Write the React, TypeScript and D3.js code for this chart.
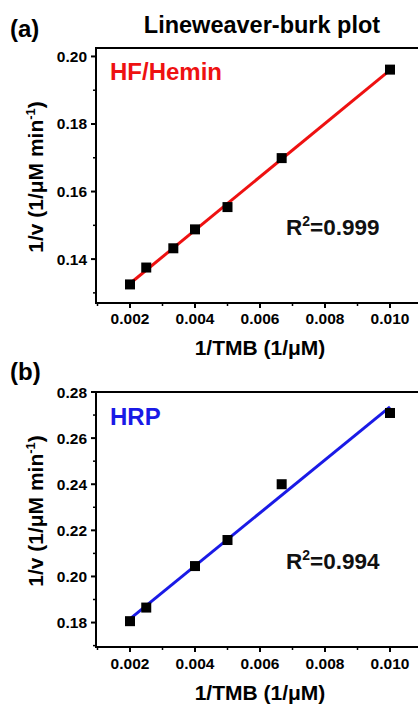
import React from "react";
import * as d3 from "d3";

const xA = [0.002, 0.0025, 0.003333, 0.004, 0.005, 0.006667, 0.01];
const yA = [0.1325, 0.1375, 0.1432, 0.1488, 0.1554, 0.1699, 0.1961];
const xB = [0.002, 0.0025, 0.004, 0.005, 0.006667, 0.01];
const yB = [0.1806, 0.1865, 0.2045, 0.2158, 0.24, 0.2709];
const xTicks = [0.002, 0.004, 0.006, 0.008, 0.01];
const xMinor = [0.001, 0.003, 0.005, 0.007, 0.009, 0.011];
const yTicksA = [0.14, 0.16, 0.18, 0.2];
const yMinorA = [0.13, 0.15, 0.17, 0.19];
const yTicksB = [0.18, 0.2, 0.22, 0.24, 0.26, 0.28];
const yMinorB = [0.17, 0.19, 0.21, 0.23, 0.25, 0.27];

const FONT = "'Liberation Sans', Arial, sans-serif";

function fit(xs: number[], ys: number[]) {
  const mx = d3.mean(xs)!;
  const my = d3.mean(ys)!;
  let sxy = 0, sxx = 0;
  xs.forEach((x, i) => { sxy += (x - mx) * (ys[i] - my); sxx += (x - mx) * (x - mx); });
  const b = sxy / sxx;
  return (x: number) => my + b * (x - mx);
}

type PanelProps = {
  top: number; bottom: number; yDomain: [number, number];
  xs: number[]; ys: number[]; yTicks: number[]; yMinor: number[];
  color: string; name: string; r2: string; letter: string; letterY: number;
  nameY: number; r2Y: number; tickY: number; xLabelY: number; yLabelY: number;
};

function Panel(p: PanelProps) {
  const left = 96;
  const x = d3.scaleLinear().domain([0.002, 0.01]).range([130, 390]);
  const x0 = x.invert(left);
  const xMax = x.invert(424);
  const y = d3.scaleLinear().domain(p.yDomain).range([p.bottom, p.top]);
  const f = fit(p.xs, p.ys);
  const line = d3.line<number>().x((d) => x(d)).y((d) => y(f(d)));
  const fmtX = d3.format(".3f");
  const fmtY = d3.format(".2f");
  return (
    <g>
      <text x={10} y={p.letterY} fontFamily={FONT} fontWeight="bold" fontSize={24}>{p.letter}</text>
      {/* frame */}
      <line x1={left} x2={x(xMax)} y1={p.top} y2={p.top} stroke="#000" strokeWidth={2} />
      <line x1={left} x2={x(xMax)} y1={p.bottom} y2={p.bottom} stroke="#000" strokeWidth={2} />
      <line x1={left} x2={left} y1={p.top - 1} y2={p.bottom + 1} stroke="#000" strokeWidth={2} />
      {xTicks.map((t) => (
        <g key={"xt" + t}>
          <line x1={x(t)} x2={x(t)} y1={p.bottom} y2={p.bottom + 5} stroke="#000" strokeWidth={2} />
          <text x={x(t)} y={p.tickY} textAnchor="middle" fontFamily={FONT} fontWeight="bold" fontSize={15.5}>{fmtX(t)}</text>
        </g>
      ))}
      {xMinor.filter((t) => t > x0).map((t) => (
        <line key={"xm" + t} x1={x(t)} x2={x(t)} y1={p.bottom} y2={p.bottom + 3} stroke="#000" strokeWidth={1.5} />
      ))}
      {p.yTicks.map((t) => (
        <g key={"yt" + t}>
          <line x1={left - 5} x2={left} y1={y(t)} y2={y(t)} stroke="#000" strokeWidth={2} />
          <text x={left - 9} y={y(t) + 5.5} textAnchor="end" fontFamily={FONT} fontWeight="bold" fontSize={15.5}>{fmtY(t)}</text>
        </g>
      ))}
      {p.yMinor.filter((t) => t > p.yDomain[0]).map((t) => (
        <line key={"ym" + t} x1={left - 3} x2={left} y1={y(t)} y2={y(t)} stroke="#000" strokeWidth={1.5} />
      ))}
      <path d={line([p.xs[0], p.xs[p.xs.length - 1]]) || ""} stroke={p.color} strokeWidth={3} fill="none" />
      {p.xs.map((d, i) => (
        <rect key={"pt" + i} x={x(d) - 5} y={y(p.ys[i]) - 5} width={10} height={10} fill="#000" />
      ))}
      <text x={110} y={p.nameY} fill={p.color} fontFamily={FONT} fontWeight="bold" fontSize={24}>{p.name}</text>
      <text x={286} y={p.r2Y} fill="#111" fontFamily={FONT} fontWeight="bold" fontSize={22.5}>
        R<tspan dy={-9} fontSize={14}>2</tspan><tspan dy={9}>={p.r2}</tspan>
      </text>
      <text x={260} y={p.xLabelY} textAnchor="middle" fontFamily={FONT} fontWeight="bold" fontSize={21}>1/TMB (1/μM)</text>
      <text transform={`translate(43,${p.yLabelY}) rotate(-90)`} textAnchor="middle" fontFamily={FONT} fontWeight="bold" fontSize={21}>
        1/v (1/μM min<tspan dy={-8} fontSize={13}>-1</tspan><tspan dy={8}>)</tspan>
      </text>
    </g>
  );
}

export default function App() {
  return (
    <svg width={418} height={704} style={{ position: "absolute", left: 0, top: 0, background: "#fff" }}>
      <rect width={418} height={704} fill="#fff" />
      <text x={262} y={33} textAnchor="middle" fontFamily={FONT} fontWeight="bold" fontSize={23.5}>Lineweaver-burk plot</text>
      <Panel top={48} bottom={303} yDomain={[0.127, 0.2025]} xs={xA} ys={yA} yTicks={yTicksA} yMinor={yMinorA}
        color="#ee1111" name="HF/Hemin" r2="0.999" letter="(a)" letterY={37} nameY={80} r2Y={235} tickY={324}
        xLabelY={355} yLabelY={177} />
      <Panel top={392} bottom={647} yDomain={[0.1694, 0.28]} xs={xB} ys={yB} yTicks={yTicksB} yMinor={yMinorB}
        color="#1a1ae6" name="HRP" r2="0.994" letter="(b)" letterY={380} nameY={425} r2Y={569} tickY={669}
        xLabelY={700} yLabelY={511} />
    </svg>
  );
}
